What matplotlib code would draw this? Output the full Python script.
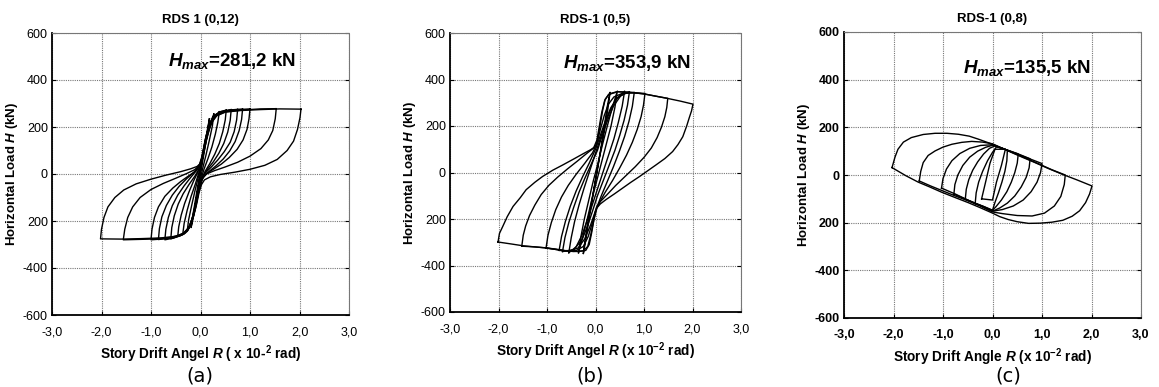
import matplotlib.pyplot as plt

plt.rcParams['font.family'] = 'Liberation Sans'
plt.rcParams['mathtext.fontset'] = 'custom'
plt.rcParams['mathtext.it'] = 'Liberation Sans:italic:bold'
plt.rcParams['mathtext.rm'] = 'Liberation Sans:bold'
plt.rcParams['mathtext.bf'] = 'Liberation Sans:bold'

drift_ticks = [-3, -2, -1, 0, 1, 2, 3]
drift_labels = ['-3,0', '-2,0', '-1,0', '0,0', '1,0', '2,0', '3,0']
load_ticks = [-600, -400, -200, 0, 200, 400, 600]
load_labels = ['-600', '-400', '200', '0', '200', '400', '600']

# ---- RDS 1 (0,12): loops as (drift, load) points
rds12_loops = [
    [(2.03, 276), (2.01, 240), (1.96, 190), (1.88, 140), (1.75, 100), (1.55, 62), (1.3, 37), (1.0, 20),
     (0.7, 8), (0.4, -2), (0.2, -12), (0.08, -25), (0.02, -45), (-0.03, -80), (-0.08, -130), (-0.14, -180),
     (-0.22, -225), (-0.32, -250), (-0.5, -265), (-0.8, -272), (-1.2, -275), (-1.6, -277), (-2.02, -276),
     (-2.0, -235), (-1.95, -185), (-1.87, -140), (-1.73, -100), (-1.55, -68), (-1.3, -42), (-1.0, -22),
     (-0.7, -5), (-0.4, 10), (-0.2, 22), (-0.07, 32), (0.0, 45), (0.04, 75), (0.09, 125), (0.15, 175),
     (0.23, 220), (0.33, 248), (0.5, 263), (0.8, 270), (1.2, 274), (1.6, 277), (2.03, 276)],
    [(1.53, 278), (1.51, 235), (1.46, 185), (1.37, 145), (1.22, 108), (1.0, 76), (0.75, 50), (0.5, 30),
     (0.28, 14), (0.12, 0), (0.04, -20), (-0.02, -60), (-0.08, -120), (-0.15, -180), (-0.24, -228),
     (-0.36, -255), (-0.6, -270), (-1.0, -277), (-1.56, -280),
     (-1.53, -235), (-1.47, -185), (-1.37, -140), (-1.22, -100), (-1.0, -66), (-0.75, -40), (-0.5, -18),
     (-0.28, 2), (-0.12, 18), (-0.03, 35), (0.02, 60), (0.07, 110), (0.13, 165), (0.21, 215), (0.31, 247),
     (0.5, 265), (0.9, 273), (1.2, 277), (1.53, 278)],
    [(1.0, 277), (0.98, 235), (0.94, 190), (0.86, 145), (0.74, 105), (0.58, 70), (0.42, 42), (0.26, 20),
     (0.12, 2), (0.03, -20), (-0.03, -60), (-0.08, -115), (-0.14, -175), (-0.22, -225), (-0.33, -255),
     (-0.55, -271), (-0.8, -277), (-1.0, -280),
     (-0.98, -235), (-0.93, -185), (-0.85, -140), (-0.72, -95), (-0.56, -60), (-0.4, -32), (-0.24, -8),
     (-0.1, 12), (-0.02, 32), (0.03, 65), (0.08, 120), (0.14, 180), (0.22, 228), (0.32, 255), (0.5, 268),
     (0.75, 274), (1.0, 277)],
    [(0.85, 276), (0.83, 232), (0.78, 184), (0.7, 138), (0.59, 98), (0.46, 64), (0.32, 36), (0.18, 12),
     (0.06, -12), (-0.01, -45), (-0.07, -100), (-0.13, -160), (-0.2, -212), (-0.3, -248), (-0.5, -268),
     (-0.85, -279),
     (-0.83, -232), (-0.78, -182), (-0.69, -134), (-0.57, -90), (-0.43, -52), (-0.28, -20), (-0.13, 8),
     (-0.03, 35), (0.03, 75), (0.09, 140), (0.16, 200), (0.26, 242), (0.42, 264), (0.62, 272),
     (0.85, 276)],
    [(0.75, 275), (0.73, 230), (0.68, 180), (0.6, 135), (0.48, 95), (0.35, 60), (0.22, 30), (0.1, 5),
     (0.02, -25), (-0.04, -75), (-0.1, -140), (-0.17, -200), (-0.26, -240), (-0.4, -262), (-0.55, -273),
     (-0.72, -280),
     (-0.7, -235), (-0.65, -185), (-0.57, -135), (-0.46, -90), (-0.33, -50), (-0.2, -15), (-0.08, 15),
     (0.0, 45), (0.05, 90), (0.1, 150), (0.17, 205), (0.26, 245), (0.4, 265), (0.57, 272), (0.75, 275)],
    [(0.62, 274), (0.6, 228), (0.55, 178), (0.47, 130), (0.37, 88), (0.26, 52), (0.14, 20), (0.05, -8),
     (-0.02, -45), (-0.08, -110), (-0.15, -180), (-0.24, -232), (-0.38, -260), (-0.6, -276),
     (-0.58, -228), (-0.53, -178), (-0.45, -128), (-0.35, -84), (-0.23, -44), (-0.11, -8), (-0.02, 25),
     (0.04, 70), (0.1, 135), (0.17, 195), (0.27, 240), (0.42, 264), (0.62, 274)],
    [(0.52, 272), (0.5, 230), (0.45, 180), (0.38, 130), (0.29, 85), (0.19, 45), (0.09, 10), (0.02, -25),
     (-0.04, -80), (-0.1, -145), (-0.17, -200), (-0.26, -240), (-0.36, -258), (-0.46, -266),
     (-0.44, -225), (-0.39, -175), (-0.32, -125), (-0.23, -75), (-0.14, -30), (-0.05, 10), (0.01, 50),
     (0.06, 105), (0.12, 165), (0.19, 215), (0.28, 248), (0.4, 265), (0.52, 272)],
    [(0.38, 265), (0.35, 220), (0.3, 170), (0.23, 115), (0.15, 65), (0.07, 20), (0.0, -30), (-0.06, -95),
     (-0.13, -165), (-0.21, -220), (-0.3, -250), (-0.36, -258),
     (-0.33, -210), (-0.27, -155), (-0.19, -95), (-0.1, -40), (-0.02, 15), (0.05, 75), (0.12, 145),
     (0.2, 205), (0.28, 243), (0.38, 265)],
    [(0.27, 255), (0.24, 205), (0.18, 145), (0.11, 80), (0.04, 20), (-0.03, -50), (-0.1, -125),
     (-0.17, -190), (-0.23, -230), (-0.27, -245),
     (-0.24, -195), (-0.18, -135), (-0.11, -70), (-0.04, -10), (0.03, 55), (0.1, 125), (0.17, 190),
     (0.22, 230), (0.27, 255)],
    [(0.18, 235), (0.14, 175), (0.08, 100), (0.02, 25), (-0.04, -50), (-0.1, -125), (-0.15, -190),
     (-0.19, -228),
     (-0.15, -170), (-0.09, -95), (-0.03, -20), (0.03, 55), (0.09, 130), (0.14, 190), (0.18, 235)],
]

# ---- RDS-1 (0,5)
rds5_loops = [
    [(-2.01, -299), (-1.98, -262), (-1.91, -231), (-1.82, -190), (-1.7, -146), (-1.55, -108), (-1.43, -74),
     (-1.25, -42), (-1.09, -17), (-0.88, 10), (-0.67, 33), (-0.45, 58), (-0.26, 80), (-0.1, 98), (0.0, 112),
     (0.05, 150), (0.1, 210), (0.15, 270), (0.2, 315), (0.28, 338), (0.45, 348), (0.7, 345), (1.0, 338),
     (1.25, 328), (1.5, 318), (1.75, 307), (2.01, 294),
     (1.98, 265), (1.94, 240), (1.88, 200), (1.8, 154), (1.7, 120), (1.59, 90), (1.43, 60), (1.25, 33),
     (1.08, 8), (0.91, -17), (0.73, -42), (0.56, -67), (0.39, -92), (0.22, -116), (0.1, -135), (0.03, -152),
     (-0.03, -200), (-0.08, -260), (-0.13, -310), (-0.2, -335), (-0.35, -340), (-0.6, -337), (-0.8, -330),
     (-1.02, -324), (-1.25, -320), (-1.5, -315), (-1.75, -307), (-2.01, -299)],
    [(-1.52, -317), (-1.49, -270), (-1.44, -230), (-1.36, -185), (-1.25, -140), (-1.12, -95), (-0.96, -55),
     (-0.78, -20), (-0.58, 15), (-0.38, 48), (-0.18, 82), (-0.04, 105), (0.03, 140), (0.08, 200),
     (0.13, 260), (0.19, 310), (0.27, 335), (0.45, 347), (0.7, 345), (1.0, 338), (1.25, 328), (1.49, 319),
     (1.47, 280), (1.43, 240), (1.36, 195), (1.27, 150), (1.15, 105), (1.0, 65), (0.82, 25), (0.62, -15),
     (0.42, -55), (0.24, -95), (0.1, -125), (0.02, -150), (-0.04, -210), (-0.1, -270), (-0.16, -318),
     (-0.25, -337), (-0.45, -340), (-0.7, -335), (-1.0, -325), (-1.25, -320), (-1.52, -317)],
    [(-1.02, -325), (-0.98, -270), (-0.91, -215), (-0.82, -160), (-0.7, -105), (-0.56, -55), (-0.4, -8),
     (-0.22, 40), (-0.06, 85), (0.03, 125), (0.1, 185), (0.18, 245), (0.27, 295), (0.38, 325), (0.55, 340),
     (0.8, 343), (1.02, 340),
     (0.99, 290), (0.94, 240), (0.86, 185), (0.76, 130), (0.64, 75), (0.5, 20), (0.35, -35), (0.2, -85),
     (0.08, -130), (0.0, -165), (-0.07, -220), (-0.15, -275), (-0.25, -318), (-0.4, -336), (-0.65, -336),
     (-0.85, -330), (-1.02, -325)],
    [(-0.75, -335), (-0.7, -275), (-0.62, -210), (-0.52, -145), (-0.4, -80), (-0.27, -20), (-0.13, 40),
     (0.0, 100), (0.1, 160), (0.2, 220), (0.32, 280), (0.45, 320), (0.6, 340), (0.8, 345),
     (0.76, 285), (0.69, 220), (0.6, 155), (0.49, 90), (0.37, 25), (0.24, -40), (0.11, -105), (0.0, -165),
     (-0.1, -225), (-0.22, -285), (-0.36, -325), (-0.55, -338), (-0.75, -335)],
    [(-0.68, -340), (-0.63, -280), (-0.55, -215), (-0.45, -150), (-0.34, -85), (-0.22, -25), (-0.09, 35),
     (0.04, 95), (0.14, 160), (0.25, 225), (0.37, 285), (0.52, 330), (0.7, 348),
     (0.66, 290), (0.59, 225), (0.5, 160), (0.4, 95), (0.28, 30), (0.16, -35), (0.04, -100), (-0.06, -165),
     (-0.16, -228), (-0.28, -290), (-0.45, -332), (-0.68, -340)],
    [(-0.55, -345), (-0.5, -280), (-0.43, -210), (-0.34, -140), (-0.24, -70), (-0.13, 0), (-0.02, 70),
     (0.09, 140), (0.2, 210), (0.31, 270), (0.42, 315), (0.6, 350),
     (0.55, 285), (0.47, 215), (0.38, 145), (0.27, 75), (0.16, 5), (0.05, -65), (-0.06, -135), (-0.17, -205),
     (-0.28, -270), (-0.4, -320), (-0.55, -345)],
    [(-0.35, -345), (-0.3, -275), (-0.23, -200), (-0.14, -120), (-0.05, -40), (0.05, 40), (0.15, 125),
     (0.25, 205), (0.34, 275), (0.45, 350),
     (0.4, 280), (0.32, 200), (0.22, 120), (0.12, 40), (0.02, -40), (-0.08, -120), (-0.17, -200),
     (-0.26, -275), (-0.35, -345)],
    [(-0.25, -348), (-0.2, -270), (-0.13, -180), (-0.05, -90), (0.03, 0), (0.1, 90), (0.17, 180),
     (0.23, 270), (0.3, 345),
     (0.25, 265), (0.18, 175), (0.1, 85), (0.02, -5), (-0.05, -95), (-0.12, -185), (-0.19, -275),
     (-0.25, -348)],
]

# ---- RDS-1 (0,8)
rds8_loops = [
    [(-2.03, 31), (-1.97, 75), (-1.91, 108), (-1.8, 138), (-1.64, 157), (-1.4, 170), (-1.16, 175),
     (-0.92, 175), (-0.69, 171), (-0.47, 163), (-0.28, 150), (-0.12, 138), (0.0, 129), (0.2, 112),
     (0.39, 94), (0.62, 73), (0.86, 52), (1.12, 28), (1.41, 3), (1.7, -20), (2.01, -46),
     (1.96, -80), (1.88, -116), (1.76, -150), (1.61, -173), (1.42, -190), (1.2, -198), (0.97, -202),
     (0.73, -203), (0.5, -196), (0.32, -187), (0.15, -175), (-0.01, -159), (-0.25, -137), (-0.49, -116),
     (-0.75, -95), (-1.03, -72), (-1.27, -50), (-1.5, -30), (-1.75, -3), (-2.03, 31)],
    [(-1.48, -25), (-1.45, 15), (-1.4, 52), (-1.3, 82), (-1.16, 101), (-1.0, 117), (-0.82, 129),
     (-0.62, 137), (-0.42, 141), (-0.2, 138), (0.0, 131), (0.2, 112), (0.45, 90), (0.7, 68), (0.95, 45),
     (1.2, 22), (1.47, 0),
     (1.45, -40), (1.38, -90), (1.25, -130), (1.05, -160), (0.8, -172), (0.5, -170), (0.2, -162),
     (0.0, -155), (-0.25, -130), (-0.5, -108), (-0.75, -88), (-1.0, -67), (-1.25, -46), (-1.48, -25)],
    [(-1.03, -55), (-1.0, -15), (-0.93, 25), (-0.82, 60), (-0.66, 90), (-0.46, 112), (-0.24, 124),
     (0.0, 127), (0.25, 108), (0.5, 88), (0.75, 68), (1.0, 48),
     (0.97, 10), (0.9, -30), (0.78, -70), (0.62, -105), (0.42, -130), (0.2, -145), (0.0, -152),
     (-0.25, -128), (-0.5, -105), (-0.75, -80), (-1.03, -55)],
    [(-0.78, -80), (-0.76, -40), (-0.7, 0), (-0.6, 40), (-0.46, 75), (-0.3, 100), (-0.14, 116), (0.0, 125),
     (0.25, 108), (0.5, 90), (0.76, 68),
     (0.74, 30), (0.68, -10), (0.58, -50), (0.45, -88), (0.3, -118), (0.15, -138), (0.0, -152),
     (-0.25, -128), (-0.5, -105), (-0.78, -80)],
    [(-0.55, -102), (-0.53, -60), (-0.48, -20), (-0.4, 20), (-0.3, 55), (-0.18, 88), (-0.06, 112),
     (0.05, 122), (0.3, 104), (0.52, 88),
     (0.5, 50), (0.45, 10), (0.38, -30), (0.29, -70), (0.18, -105), (0.07, -133), (0.0, -148),
     (-0.25, -126), (-0.55, -102)],
    [(-0.35, -120), (-0.33, -75), (-0.28, -30), (-0.2, 15), (-0.1, 60), (0.0, 95), (0.08, 118),
     (0.2, 112), (0.3, 104),
     (0.29, 60), (0.25, 15), (0.19, -30), (0.12, -75), (0.05, -115), (0.0, -148), (-0.18, -132),
     (-0.35, -120)],
    [(-0.22, -100), (-0.14, -30), (-0.05, 50), (0.05, 108), (0.26, 108), (0.18, 40), (0.08, -30),
     (0.0, -105), (-0.22, -100)],
]

panels = [
    dict(loops=rds12_loops, title='RDS 1 (0,12)', hmax='281,2 kN', hmax_xy=(-0.65, 480),
         xlabel=r'Story Drift Angel $R$ ( x 10-$^{2}$ rad)', bold=False,
         rect=[52 / 1159, 1 - 315 / 387, 297 / 1159, 282 / 387], letter='(a)', letter_x=200),
    dict(loops=rds5_loops, title='RDS-1 (0,5)', hmax='353,9 kN', hmax_xy=(-0.67, 470),
         xlabel=r'Story Drift Angel $R$ (x 10$^{-2}$ rad)', bold=False,
         rect=[450 / 1159, 1 - 312 / 387, 291 / 1159, 279 / 387], letter='(b)', letter_x=590),
    dict(loops=rds8_loops, title='RDS-1 (0,8)', hmax='135,5 kN', hmax_xy=(-0.6, 448),
         xlabel=r'Story Drift Angle $R$ (x 10$^{-2}$ rad)', bold=True,
         rect=[844 / 1159, 1 - 318 / 387, 297 / 1159, 286 / 387], letter='(c)', letter_x=1008),
]

fig = plt.figure(figsize=(11.59, 3.87), dpi=100)

for p in panels:
    ax = fig.add_axes(p['rect'])
    for loop in p['loops']:
        xs, ys = zip(*loop)
        ax.plot(xs, ys, color='black', linewidth=1.0)
    ax.set_xlim(-3, 3)
    ax.set_ylim(-600, 600)
    w = 'bold' if p['bold'] else 'normal'
    ax.set_xticks(drift_ticks)
    ax.set_xticklabels(drift_labels, fontsize=9, fontweight=w)
    ax.set_yticks(load_ticks)
    ax.set_yticklabels(load_labels, fontsize=9, fontweight=w)
    ax.grid(True, color='#777777', linestyle=(0, (1, 1)), linewidth=0.8)
    ax.tick_params(direction='in', length=3, right=True, top=False, pad=3)
    ax.tick_params(axis='x', pad=8)
    for side in ['left', 'bottom']:
        ax.spines[side].set_linewidth(1.3)
    for side in ['top', 'right']:
        ax.spines[side].set_color('#777777')
        ax.spines[side].set_linestyle((0, (1, 1)))
        ax.spines[side].set_linewidth(0.8)
    ax.set_title(p['title'], fontsize=9.5, fontweight='bold', pad=7)
    ax.set_xlabel(p['xlabel'], fontsize=9.8, fontweight='bold', labelpad=4)
    ax.set_ylabel(r'Horizontal Load $H$ (kN)', fontsize=9.5, fontweight='bold', labelpad=2)
    ax.text(p['hmax_xy'][0], p['hmax_xy'][1], r'$H_{max}$=' + p['hmax'],
            fontsize=13.5, fontweight='bold', va='center', ha='left')
    fig.text(p['letter_x'] / 1159, 1 - 376 / 387, p['letter'], fontsize=14,
             family='DejaVu Sans', ha='center', va='center')

fig.savefig('out.png', dpi=100)
